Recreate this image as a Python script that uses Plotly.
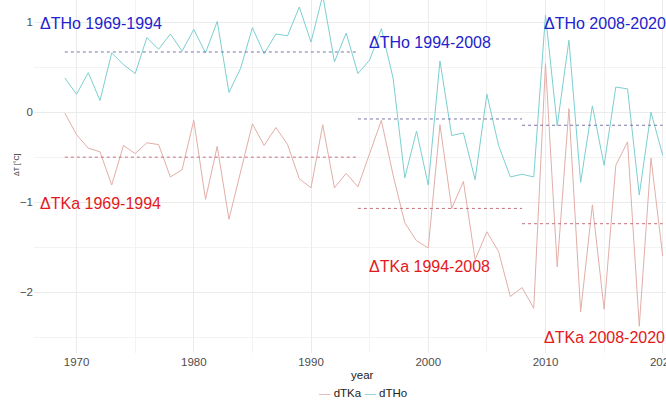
import plotly.graph_objects as go

years = list(range(1969, 2021))

dTHo = [0.38, 0.20, 0.44, 0.13, 0.66, 0.53, 0.43, 0.83, 0.70, 0.87,
        0.68, 0.92, 0.66, 1.01, 0.22, 0.49, 0.94, 0.65, 0.87, 0.85,
        1.17, 0.78, 1.30, 0.56, 0.88, 0.43, 0.58, 0.93, 0.38, -0.73,
        -0.21, -0.81, 0.57, -0.26, -0.23, -0.75, 0.20, -0.37, -0.72, -0.69,
        -0.72, 1.08, -0.15, 0.80, -0.78, 0.07, -0.59, 0.28, 0.26, -0.92,
        0.00, -0.48]

dTKa = [-0.01, -0.25, -0.40, -0.44, -0.81, -0.37, -0.46, -0.34, -0.36, -0.72,
        -0.64, -0.09, -0.97, -0.38, -1.19, -0.66, -0.13, -0.37, -0.17, -0.36,
        -0.74, -0.84, -0.14, -0.84, -0.68, -0.83, -0.47, -0.09, -0.70, -1.23,
        -1.43, -1.51, -0.14, -1.07, -0.77, -1.64, -1.33, -1.55, -2.05, -1.95,
        -2.18, 0.54, -1.72, 0.04, -2.22, -1.03, -2.19, -0.59, -0.33, -2.38,
        -0.51, -1.60]

periods = [(1969, 1994), (1994, 2008), (2008, 2020)]
mean_THo = [0.67, -0.075, -0.145]
mean_TKa = [-0.50, -1.07, -1.24]

label_THo = ["ΔTHo 1969-1994", "ΔTHo 1994-2008", "ΔTHo 2008-2020"]
label_TKa = ["ΔTKa 1969-1994", "ΔTKa 1994-2008", "ΔTKa 2008-2020"]
label_x = [1966.72, 1994.8, 2009.72]
label_y_THo = [0.99, 0.78, 0.99]
label_y_TKa = [-1.01, -1.72, -2.51]

series_names = ["dTKa", "dTHo"]

col_TKa = "#e2aea8"
col_THo = "#7ccfd1"
col_mean_TKa = "#c8707c"
col_mean_THo = "#7a76a8"
col_txt_THo = "#2222cc"
col_txt_TKa = "#e3191c"

fig = go.Figure()
fig.add_trace(go.Scatter(x=years, y=dTKa, mode="lines", name=series_names[0],
                         line=dict(color=col_TKa, width=1)))
fig.add_trace(go.Scatter(x=years, y=dTHo, mode="lines", name=series_names[1],
                         line=dict(color=col_THo, width=1)))

for (a, b), m1, m2 in zip(periods, mean_THo, mean_TKa):
    fig.add_trace(go.Scatter(x=[a, b], y=[m1, m1], mode="lines", showlegend=False,
                             line=dict(color=col_mean_THo, width=1, dash="dot"),
                             hoverinfo="skip"))
    fig.add_trace(go.Scatter(x=[a, b], y=[m2, m2], mode="lines", showlegend=False,
                             line=dict(color=col_mean_TKa, width=1, dash="dot"),
                             hoverinfo="skip"))

for t, x, y in zip(label_THo, label_x, label_y_THo):
    fig.add_annotation(x=x, y=y, text=t, showarrow=False, xanchor="left", yanchor="middle",
                       font=dict(family="Liberation Sans, Arial", size=16, color=col_txt_THo))
for t, x, y in zip(label_TKa, label_x, label_y_TKa):
    fig.add_annotation(x=x, y=y, text=t, showarrow=False, xanchor="left", yanchor="middle",
                       font=dict(family="Liberation Sans, Arial", size=16, color=col_txt_TKa))

# axis titles
fig.add_annotation(xref="paper", yref="paper", x=(362.5 - 34) / 632, y=-22 / 353,
                   text="year", showarrow=False, xanchor="center", yanchor="middle",
                   font=dict(family="Liberation Sans, Arial", size=11.5, color="#222222"))
fig.add_annotation(xref="paper", yref="paper", x=(17 - 34) / 632, y=(353 - 165) / 353,
                   text="ΔT [°C]", showarrow=False, textangle=-90, xanchor="center", yanchor="middle",
                   font=dict(family="Liberation Sans, Arial", size=7, color="#333333"))

# compact legend (ggplot-style short keys)
legend_text = (f"<span style='color:{col_TKa}'>—</span> {series_names[0]} "
               f"<span style='color:{col_THo}'>—</span> {series_names[1]}")
fig.add_annotation(xref="paper", yref="paper", x=(363 - 34) / 632, y=-40 / 353,
                   text=legend_text, showarrow=False, xanchor="center", yanchor="middle",
                   font=dict(family="Liberation Sans, Arial", size=11.5, color="#222222"))

fig.update_layout(
    width=666, height=401,
    margin=dict(l=34, r=0, t=0, b=48, autoexpand=False),
    paper_bgcolor="white", plot_bgcolor="white",
    font=dict(family="Liberation Sans, Arial", size=11, color="#4d4d4d"),
    showlegend=False,
    xaxis=dict(range=[1966.37, 2020.28], tick0=1970, dtick=10, showgrid=True,
               gridcolor="#ebebeb", gridwidth=1, zeroline=False, showline=False,
               ticks="", automargin=False, ticklabeloverflow="allow",
               tickfont=dict(size=11.5, color="#4d4d4d"),
               minor=dict(tick0=1965, dtick=5, showgrid=True, gridcolor="#f3f3f3", gridwidth=0.5)),
    yaxis=dict(range=[-2.678, 1.248], tick0=0, dtick=1, showgrid=True,
               gridcolor="#ebebeb", gridwidth=1, zeroline=False, showline=False,
               ticks="", automargin=False,
               tickfont=dict(size=11.5, color="#4d4d4d"),
               minor=dict(tick0=0.5, dtick=0.5, showgrid=True, gridcolor="#f3f3f3", gridwidth=0.5)),
)

fig.write_html("out.html", config={"displayModeBar": False},
               post_script="document.body.style.margin='0px';document.body.style.overflow='hidden';")
